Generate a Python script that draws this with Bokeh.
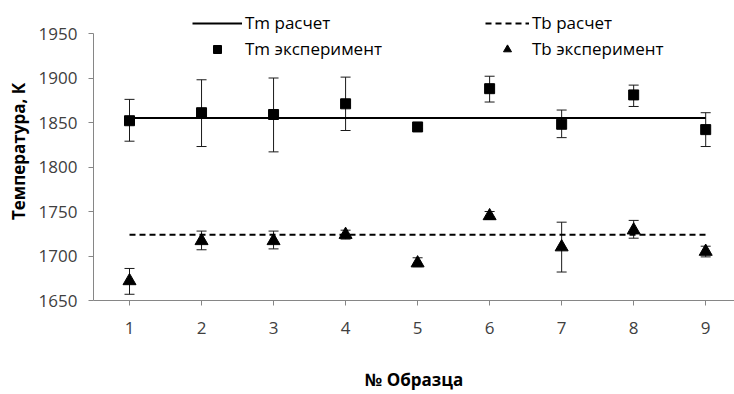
from bokeh.plotting import figure
from bokeh.models import ColumnDataSource, Whisker, TeeHead, Legend, LegendItem, FixedTicker, Range1d
from bokeh.embed import file_html
from bokeh.resources import INLINE

samples = [1, 2, 3, 4, 5, 6, 7, 8, 9]
tm_exp = [1852, 1861, 1859, 1871, 1845, 1888, 1848, 1881, 1842]
tm_upper = [1876, 1898, 1900, 1901, 1847, 1902, 1864, 1892, 1861]
tm_lower = [1829, 1823, 1817, 1841, 1843, 1873, 1833, 1868, 1823]
tb_exp = [1672, 1717, 1717, 1724, 1692, 1745, 1710, 1729, 1705]
tb_upper = [1686, 1728, 1728, 1729, 1698, 1750, 1738, 1740, 1711]
tb_lower = [1657, 1707, 1708, 1719, 1688, 1741, 1682, 1720, 1699]
tm_calc = 1855
tb_calc = 1724
y_ticks = [1650, 1700, 1750, 1800, 1850, 1900, 1950]
y_min, y_max = 1650, 1950

FONT = "Open Sans"
AX = "#868686"
LBL = "#404040"

W, H = 734, 394
BORDER_T, BORDER_B, BORDER_L = 2, 94, 93
frame_h = H - BORDER_T - BORDER_B
axis_px = 267  # pixels spanned by 1650..1950
y_top = y_min + (y_max - y_min) * frame_h / axis_px

p = figure(width=W, height=H, output_backend="svg", toolbar_location=None,
           x_range=Range1d(0.5, 9.4), y_range=Range1d(y_min, y_top),
           min_border_left=BORDER_L, min_border_right=0, min_border_top=BORDER_T,
           min_border_bottom=BORDER_B)
p.outline_line_color = None
p.grid.visible = False

tm_src = ColumnDataSource(dict(x=samples, y=tm_exp, up=tm_upper, lo=tm_lower))
tb_src = ColumnDataSource(dict(x=samples, y=tb_exp, up=tb_upper, lo=tb_lower))

r_tm_line = p.line(samples, [tm_calc] * len(samples), line_color="black", line_width=2)
r_tb_line = p.line(samples, [tb_calc] * len(samples), line_color="black", line_width=2, line_dash="6 4")

for src in (tm_src, tb_src):
    w = Whisker(source=src, base="x", upper="up", lower="lo", line_color="#1a1a1a", line_width=1,
                upper_head=TeeHead(size=10, line_color="#1a1a1a", line_width=1),
                lower_head=TeeHead(size=10, line_color="#1a1a1a", line_width=1))
    p.add_layout(w)

r_tm = p.scatter("x", "y", source=tm_src, marker="square", size=10, color="black")
r_tb = p.scatter("x", "y", source=tb_src, marker="triangle", size=13, color="black")

for ax in (p.xaxis[0], p.yaxis[0]):
    ax.axis_line_color = AX
    ax.major_tick_line_color = AX
    ax.minor_tick_line_color = None
    ax.major_tick_in = 0
    ax.major_tick_out = 5
    ax.major_label_text_font = FONT
    ax.major_label_text_font_size = "17px"
    ax.major_label_text_color = LBL
    ax.axis_label_text_font = FONT
    ax.axis_label_text_font_size = "17px"
    ax.axis_label_text_font_style = "bold"
    ax.axis_label_text_color = "#000000"

p.yaxis.bounds = (y_min, y_max)
p.xaxis.ticker = FixedTicker(ticks=samples)
p.yaxis.ticker = FixedTicker(ticks=y_ticks)
p.xaxis.major_label_standoff = 16
p.yaxis.major_label_standoff = 11
p.xaxis.axis_label = "№ Образца"
p.yaxis.axis_label = "Температура, К"
p.xaxis.axis_label_standoff = 31
p.yaxis.axis_label_standoff = 6

def make_legend(items, loc, gw):
    lg = Legend(items=items, location=loc, orientation="vertical",
                background_fill_alpha=0, border_line_color=None,
                padding=0, margin=0, spacing=3, glyph_width=gw, glyph_height=20,
                label_height=20, label_standoff=3,
                label_text_font=FONT, label_text_font_size="17px", label_text_color="#000000")
    p.add_layout(lg, "center")

make_legend([LegendItem(label="Tm расчет", renderers=[r_tm_line]),
             LegendItem(label="Tm эксперимент", renderers=[r_tm])], (99, 240), 50)
make_legend([LegendItem(label="Tb расчет", renderers=[r_tb_line]),
             LegendItem(label="Tb эксперимент", renderers=[r_tb])], (392, 240), 44)

open("out.html", "w").write(file_html(p, INLINE))
